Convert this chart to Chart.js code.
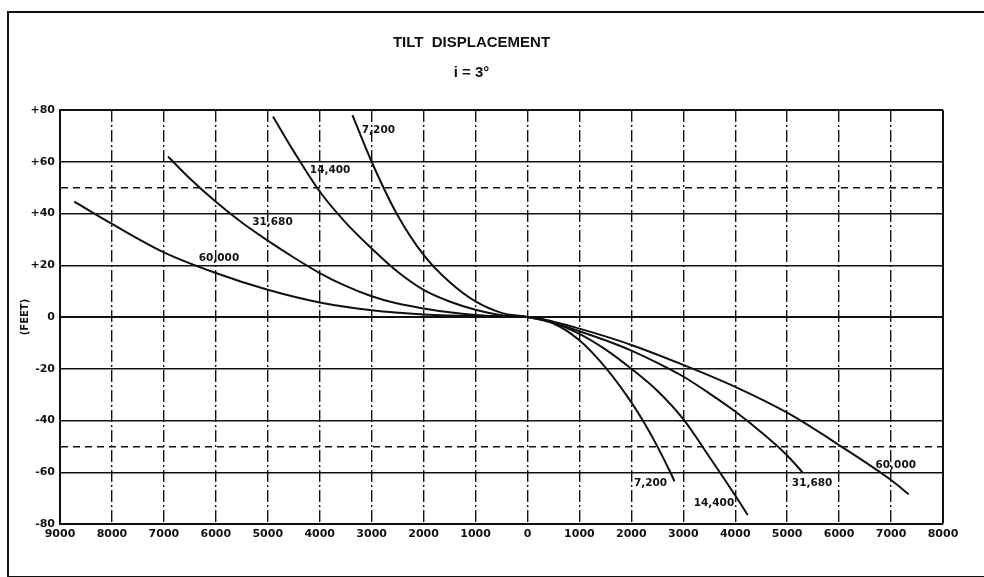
<!DOCTYPE html>
<html>
<head>
<meta charset="utf-8">
<script src="https://cdn.jsdelivr.net/npm/chart.js@4.4.1/dist/chart.umd.min.js"></script>
<style>
  html, body { margin: 0; padding: 0; background: #fff; }
  #wrap { position: relative; width: 984px; height: 577px; overflow: hidden; background: #fff; }
  #frame { position: absolute; left: 7px; top: 11px; width: 990px; height: 563px;
           border-left: 2px solid #111; border-top: 2px solid #111; border-bottom: 2px solid #111; }
  canvas { position: absolute; left: 0; top: 0; }
</style>
</head>
<body>
<div id="wrap">
  <div id="frame"></div>
  <canvas id="c" width="984" height="577"></canvas>
</div>
<script>
// ---- data (feet; negative x = left half of the chart) ----
const xTicks = [-9000,-8000,-7000,-6000,-5000,-4000,-3000,-2000,-1000,0,1000,2000,3000,4000,5000,6000,7000,8000];
const yTickLabels = [-80,-60,-40,-20,0,20,40,60,80];
const refLines = [50,-50];

const curveNames = ["7,200","14,400","31,680","60,000"];

const x7200 = [-3370,-3000,-2520,-2000,-1500,-1000,-500,0,500,1000,1500,2000,2250,2500,2750,2830];
const y7200 = [78,60,40,24,13.5,6,1.6,0,-2.5,-9,-19.5,-33,-41,-50,-60,-63.5];

const x14400 = [-4900,-4500,-4000,-3500,-3000,-2500,-2000,-1500,-1000,-500,0,500,1000,1500,2000,2500,3000,3500,4000,4240];
const y14400 = [77.5,64,48.5,36.5,26.5,17.5,10.5,6,2.8,0.7,0,-2.2,-6.5,-12.5,-20,-28.5,-39.5,-54,-69,-76.5];

const x31680 = [-6920,-6500,-6000,-5500,-5000,-4500,-4000,-3500,-3000,-2500,-2000,-1500,-1000,-500,0,500,1000,1500,2000,2500,3000,3500,4000,4500,5000,5294];
const y31680 = [62,53.5,44.5,36.5,29.5,23,17,12,8,5.2,3.3,1.8,0.8,0.25,0,-2.2,-5.5,-9,-13,-17.7,-23,-29.5,-36.5,-44.5,-53.5,-60];

const x60000 = [-8725,-8000,-7000,-6000,-5000,-4000,-3000,-2000,-1000,0,500,1000,1500,2000,3000,4000,5000,6000,7000,7340];
const y60000 = [44.6,36,25,17,10.5,5.6,2.6,1.0,0.4,0,-1.8,-4.5,-7.5,-10.8,-18.5,-27,-37,-49.5,-63,-68.5];

// curve label anchors (data units, left edge of text)
const labelX = [-3190,-4190,-5300,-6330, 2050,3200,5090,6700];
const labelY = [72.3,56.8,36.7,22.8, -64.2,-71.9,-64.2,-57.2];
const labelText = ["7,200","14,400","31,680","60,000","7,200","14,400","31,680","60,000"];

const seriesX = [x7200, x14400, x31680, x60000];
const seriesY = [y7200, y14400, y31680, y60000];

const datasets = curveNames.map((name, i) => ({
  label: name,
  data: seriesX[i].map((x, j) => ({ x: x, y: seriesY[i][j] })),
  borderColor: '#111',
  borderWidth: 2,
  pointRadius: 0,
  fill: false,
  cubicInterpolationMode: 'monotone'
}));

const curveLabelPlugin = {
  id: 'curveLabels',
  afterDatasetsDraw(chart) {
    const ctx = chart.ctx;
    const xs = chart.scales.x, ys = chart.scales.y;
    ctx.save();
    ctx.fillStyle = '#111';
    ctx.font = 'bold 10.5px "DejaVu Sans", sans-serif';
    ctx.textAlign = 'left';
    ctx.textBaseline = 'middle';
    labelText.forEach((t, i) => {
      ctx.fillText(t, xs.getPixelForValue(labelX[i]), ys.getPixelForValue(labelY[i]));
    });
    ctx.restore();
  }
};

const tickFont = { family: '"DejaVu Sans", sans-serif', weight: 'bold', size: 11 };

new Chart(document.getElementById('c'), {
  type: 'line',
  data: { datasets: datasets },
  plugins: [curveLabelPlugin],
  options: {
    responsive: false,
    animation: false,
    devicePixelRatio: 1,
    layout: { padding: { left: 0, right: 41, top: 0, bottom: 31 } },
    plugins: {
      legend: { display: false },
      tooltip: { enabled: false },
      title: {
        display: true,
        text: 'TILT  DISPLACEMENT',
        color: '#111',
        font: { family: '"Liberation Sans", Arial, sans-serif', weight: 'bold', size: 15 },
        padding: { top: 34, bottom: 12 }
      },
      subtitle: {
        display: true,
        text: 'i = 3°',
        color: '#111',
        font: { family: '"Liberation Sans", Arial, sans-serif', weight: 'bold', size: 15 },
        padding: { top: 0, bottom: 28 }
      }
    },
    scales: {
      x: {
        type: 'linear',
        min: -9000,
        max: 8000,
        afterBuildTicks: (s) => { s.ticks = xTicks.map(v => ({ value: v })); },
        afterFit: (s) => { s.height = 22; },
        ticks: {
          autoSkip: false,
          maxRotation: 0,
          padding: 4,
          color: '#111',
          font: tickFont,
          callback: (v) => String(Math.abs(v))
        },
        grid: {
          color: '#111',
          lineWidth: (c) => (c.tick && (c.tick.value === 8000) ? 2 : 1.4),
          drawTicks: false
        },
        border: {
          display: true,
          color: '#111',
          width: 2,
          dash: (c) => (c.tick && (c.tick.value === 8000 || c.tick.value === -9000) ? [] : [12, 3, 2, 3])
        }
      },
      y: {
        type: 'linear',
        min: -80,
        max: 80,
        afterBuildTicks: (s) => {
          const vals = yTickLabels.concat(refLines).sort((a, b) => a - b);
          s.ticks = vals.map(v => ({ value: v }));
        },
        afterFit: (s) => { s.width = 60; },
        title: {
          display: true,
          text: '(FEET)',
          color: '#111',
          font: { family: '"DejaVu Sans", sans-serif', weight: 'bold', size: 10 },
          padding: { top: 19, bottom: 0 }
        },
        ticks: {
          autoSkip: false,
          padding: 5,
          color: '#111',
          font: tickFont,
          callback: (v) => (yTickLabels.includes(v) ? (v > 0 ? '+' + v : String(v)) : '')
        },
        grid: {
          color: '#111',
          lineWidth: (c) => {
            if (!c.tick) return 1.4;
            const v = c.tick.value;
            if (v === 80 || v === 0) return 2;
            return 1.4;
          },
          drawTicks: false
        },
        border: {
          display: true,
          color: '#111',
          width: 2,
          dash: (c) => (c.tick && refLines.includes(c.tick.value) ? [7, 5] : [])
        }
      }
    }
  }
});
</script>
</body>
</html>
